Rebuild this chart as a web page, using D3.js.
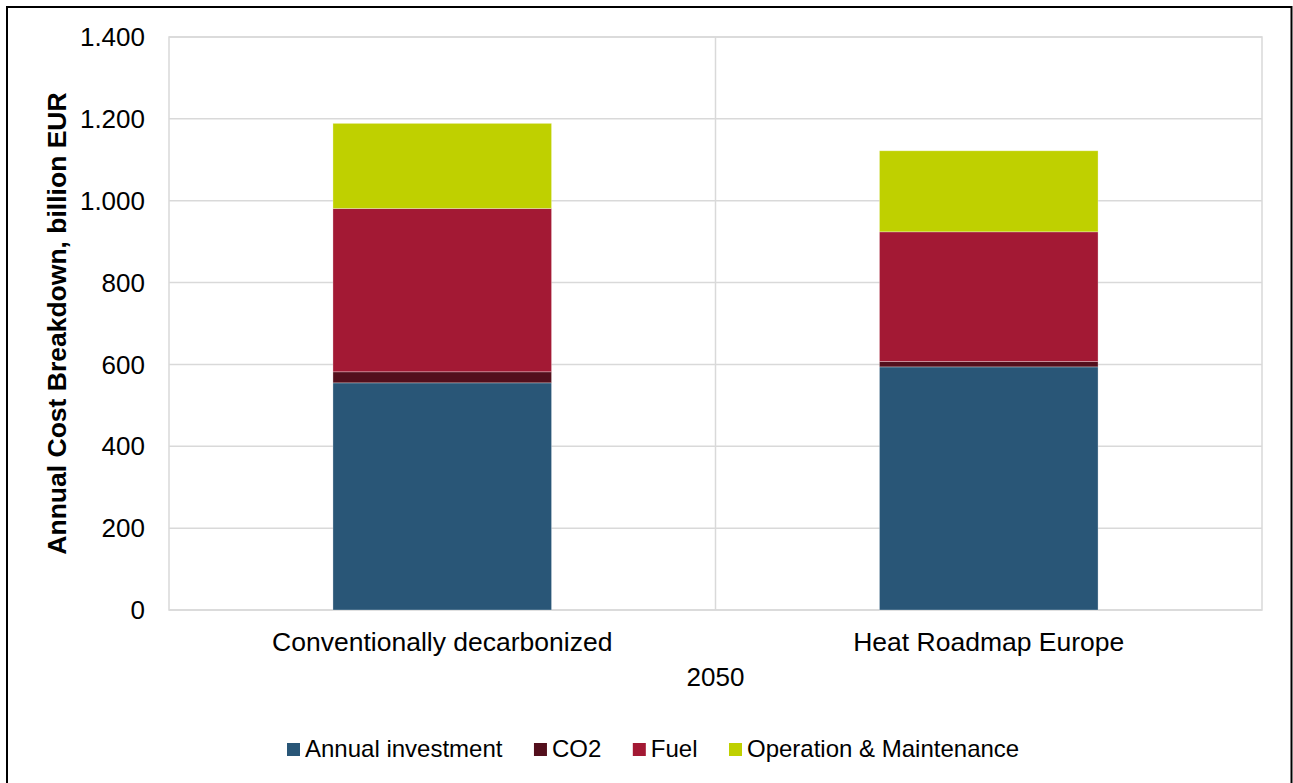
<!DOCTYPE html>
<html>
<head>
<meta charset="utf-8">
<script src="https://cdn.jsdelivr.net/npm/d3@7"></script>
<style>
  body { margin: 0; background: #fff; }
  text { font-family: Arial, "Liberation Sans", sans-serif; fill: #000; }
</style>
</head>
<body>
<div id="viz"></div>
<script>
const categories = ['Conventionally decarbonized', 'Heat Roadmap Europe'];
const seriesNames = ['Annual investment', 'CO2', 'Fuel', 'Operation & Maintenance'];
const seriesColors = ['#295677', '#530f1c', '#a31934', '#bfd000'];
const annualInvestment = [555, 594];
const co2 = [27, 13];
const fuel = [399, 317];
const operationMaintenance = [208, 198];
const yTicks = [0, 200, 400, 600, 800, 1000, 1200, 1400];

const WIDTH = 1293;
const HEIGHT = 783;
const PLOT = { left: 169, right: 1262, top: 37, bottom: 610 };

const svg = d3.select('#viz').append('svg')
  .attr('width', WIDTH)
  .attr('height', HEIGHT);

svg.append('rect')
  .attr('width', WIDTH).attr('height', HEIGHT)
  .attr('fill', '#fff');

// outer frame
svg.append('rect')
  .attr('x', 7).attr('y', 7)
  .attr('width', 1284.5).attr('height', 800)
  .attr('fill', 'none')
  .attr('stroke', '#000')
  .attr('stroke-width', 2);

// table for stacking
const table = categories.map((c, i) => ({
  category: c,
  'Annual investment': annualInvestment[i],
  'CO2': co2[i],
  'Fuel': fuel[i],
  'Operation & Maintenance': operationMaintenance[i]
}));
const stacked = d3.stack().keys(seriesNames)(table);

const x = d3.scaleBand()
  .domain(categories)
  .range([PLOT.left, PLOT.right])
  .padding(0);

const y = d3.scaleLinear()
  .domain([0, 1400])
  .range([PLOT.bottom, PLOT.top]);

const color = d3.scaleOrdinal().domain(seriesNames).range(seriesColors);
const fmt = d3.formatLocale({ decimal: ',', thousands: '.', grouping: [3], currency: ['', ''] }).format(',');

// grid lines
svg.append('g')
  .selectAll('line')
  .data(yTicks)
  .join('line')
    .attr('x1', PLOT.left).attr('x2', PLOT.right)
    .attr('y1', d => y(d)).attr('y2', d => y(d))
    .attr('stroke', '#d9d9d9')
    .attr('stroke-width', 1.5);

// category separators + plot frame
svg.append('g')
  .selectAll('line')
  .data(categories.slice(1))
  .join('line')
    .attr('x1', d => x(d)).attr('x2', d => x(d))
    .attr('y1', PLOT.top).attr('y2', PLOT.bottom)
    .attr('stroke', '#d9d9d9')
    .attr('stroke-width', 1.5);

svg.append('rect')
  .attr('x', PLOT.left).attr('y', PLOT.top)
  .attr('width', PLOT.right - PLOT.left)
  .attr('height', PLOT.bottom - PLOT.top)
  .attr('fill', 'none')
  .attr('stroke', '#d9d9d9')
  .attr('stroke-width', 1.5);

// bars
const barW = x.bandwidth() * 0.4;
svg.append('g')
  .selectAll('g')
  .data(stacked)
  .join('g')
    .attr('fill', d => color(d.key))
  .selectAll('rect')
  .data(d => d)
  .join('rect')
    .attr('x', d => x(d.data.category) + (x.bandwidth() - barW) / 2)
    .attr('y', d => y(d[1]))
    .attr('width', barW)
    .attr('height', d => y(d[0]) - y(d[1]))
    .attr('stroke', '#fff')
    .attr('stroke-opacity', 0.4)
    .attr('stroke-width', 0.75);

// y axis labels
svg.append('g')
  .selectAll('text')
  .data(yTicks)
  .join('text')
    .attr('x', 145)
    .attr('y', d => y(d))
    .attr('dy', '0.35em')
    .attr('text-anchor', 'end')
    .attr('font-size', '26px')
    .text(d => fmt(d));

// category labels
svg.append('g')
  .selectAll('text')
  .data(categories)
  .join('text')
    .attr('x', d => x(d) + x.bandwidth() / 2)
    .attr('y', 651)
    .attr('text-anchor', 'middle')
    .attr('font-size', '26.5px')
    .text(d => d);

svg.append('text')
  .attr('x', (PLOT.left + PLOT.right) / 2)
  .attr('y', 686)
  .attr('text-anchor', 'middle')
  .attr('font-size', '26px')
  .text('2050');

// y axis title
svg.append('text')
  .attr('transform', `translate(66, ${(PLOT.top + PLOT.bottom) / 2}) rotate(-90)`)
  .attr('text-anchor', 'middle')
  .attr('font-size', '26.5px')
  .attr('font-weight', 'bold')
  .text('Annual Cost Breakdown, billion EUR');

// legend
const legend = svg.append('g').attr('class', 'legend');
let lx = 287;
seriesNames.forEach(name => {
  const item = legend.append('g').attr('transform', `translate(${lx}, 0)`);
  item.append('rect')
    .attr('x', 0).attr('y', 743)
    .attr('width', 13).attr('height', 13)
    .attr('fill', color(name));
  const t = item.append('text')
    .attr('x', 18).attr('y', 756.5)
    .attr('font-size', '24px')
    .text(name);
  lx += 18 + t.node().getComputedTextLength() + 31.5;
});
</script>
</body>
</html>
